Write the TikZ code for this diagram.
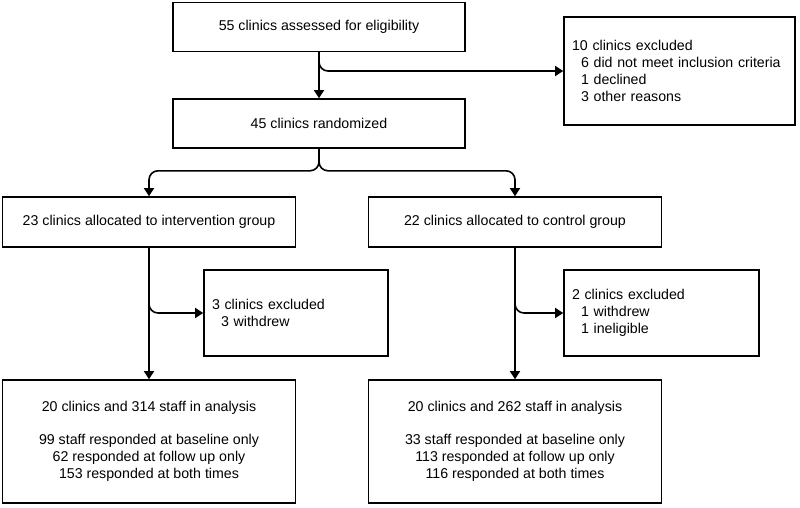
\documentclass[tikz,border=0pt]{standalone}
\usepackage{fontspec}
\setmainfont{Liberation Sans}
\usetikzlibrary{arrows.meta}
\begin{document}
\begin{tikzpicture}[x=1pt,y=-1pt,
  box/.style={draw,line width=1.6pt,rectangle,inner sep=0pt,align=center,
    font=\fontsize{14.2}{17}\selectfont},
  lbox/.style={draw,line width=1.6pt,rectangle,inner xsep=8pt,inner ysep=0pt,align=left,
    font=\fontsize{14.2}{17}\selectfont},
  conn/.style={line width=1.6pt,rounded corners=9pt},
  arr/.style={conn,-{Triangle[length=8pt,width=10pt]}}]
\useasboundingbox (0,0) rectangle (800,507);
\node[box,minimum width=292pt,minimum height=49pt] (b1) at (319,27) {55 clinics assessed for eligibility};
\node[lbox,text width=215pt,minimum height=108pt] (ex1) at (679.5,71) {10 clinics excluded\\\hspace{9pt}6 did not meet inclusion criteria\\\hspace{9pt}1 declined\\\hspace{9pt}3 other reasons};
\node[box,minimum width=292pt,minimum height=49pt] (b2) at (319,123.5) {45 clinics randomized};
\node[box,minimum width=293pt,minimum height=50pt] (b3) at (149,222) {23 clinics allocated to intervention group};
\node[box,minimum width=293pt,minimum height=50pt] (b4) at (515,222) {22 clinics allocated to control group};
\node[lbox,text width=168pt,minimum height=86pt] (ex2) at (296,313) {3 clinics excluded\\\hspace{9pt}3 withdrew};
\node[lbox,text width=179pt,minimum height=86pt] (ex3) at (661.5,313) {2 clinics excluded\\\hspace{9pt}1 withdrew\\\hspace{9pt}1 ineligible};
\node[box,minimum width=293pt,minimum height=123pt] (b5) at (149,441.5) {20 clinics and 314 staff in analysis\\[16pt]99 staff responded at baseline only\\62 responded at follow up only\\153 responded at both times};
\node[box,minimum width=293pt,minimum height=123pt] (b6) at (515,441.5) {20 clinics and 262 staff in analysis\\[16pt]33 staff responded at baseline only\\113 responded at follow up only\\116 responded at both times};
\draw[arr] (b1.south) -- (b2.north);
\draw[arr] (b1.south) |- (ex1.west);
\draw[arr] (b2.south) -- ++(0,22) -| (b3.north);
\draw[arr] (b2.south) -- ++(0,22) -| (b4.north);
\draw[arr] (b3.south) -- (b5.north);
\draw[arr] (b3.south) |- (ex2.west);
\draw[arr] (b4.south) -- (b6.north);
\draw[arr] (b4.south) |- (ex3.west);
\end{tikzpicture}
\end{document}
